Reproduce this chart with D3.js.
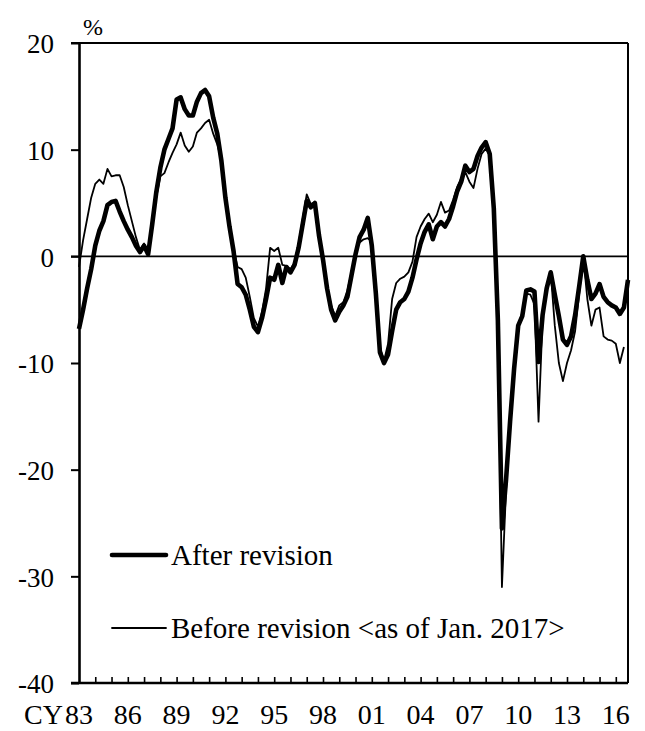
<!DOCTYPE html>
<html>
<head>
<meta charset="utf-8">
<script src="https://cdn.jsdelivr.net/npm/d3@7"></script>
<style>
  html, body { margin: 0; padding: 0; background: #fff; }
  svg text { font-family: "Liberation Serif", "Times New Roman", serif; fill: #000; }
</style>
</head>
<body>
<svg id="chart" width="645" height="731"></svg>
<script>
// Quarterly year-on-year change (%), 1983Q1 onward
const startYear = 1983;
const afterRevision = [
  -6.8, -5.0, -3.0, -1.2,   1.0, 2.4, 3.3, 4.8,   5.1, 5.2, 4.2, 3.3,   2.5, 1.8, 1.0, 0.4,
   1.0, 0.2, 3.0, 6.0,   8.3, 10.0, 11.0, 12.0,   14.7, 14.9, 13.8, 13.2,   13.2, 14.5, 15.3, 15.6,
   15.0, 13.0, 11.5, 9.0,   5.5, 2.8, 0.5, -2.6,   -2.9, -3.6, -5.0, -6.6,   -7.1, -5.8, -4.0, -2.0,
  -2.2, -0.8, -2.5, -1.0,   -1.5, -0.8, 0.8, 3.0,   5.2, 4.6, 5.0, 2.0,   -0.3, -3.0, -5.0, -6.0,
  -5.2, -4.6, -3.8, -1.8,   0.2, 1.8, 2.5, 3.6,   1.0, -3.5, -9.0, -10.0,   -9.2, -7.0, -5.0, -4.3,
  -4.0, -3.3, -2.0, -0.3,   1.2, 2.3, 3.0, 1.6,   2.8, 3.2, 2.8, 3.5,   4.7, 6.1, 7.0, 8.5,
   7.9, 8.2, 9.4, 10.2,   10.7, 9.6, 4.5, -6.0,   -25.5, -21.0, -15.5, -10.5,   -6.5, -5.6, -3.2, -3.1,
  -3.3, -9.9, -5.5, -3.0,   -1.5, -3.6, -5.6, -7.8,   -8.3, -7.5, -5.5, -2.8,   0.0, -2.2, -4.0, -3.5,
  -2.6, -3.8, -4.3, -4.6,   -4.8, -5.4, -4.8, -2.2
];
const beforeRevision = [
  -1.0, 1.5, 3.5, 5.5,   6.8, 7.2, 6.8, 8.2,   7.5, 7.6, 7.6, 6.5,   4.8, 3.3, 1.8, 0.6,
   1.2, 0.2, 3.0, 5.5,   7.5, 7.8, 8.8, 9.7,   10.5, 11.6, 10.4, 9.8,   10.3, 11.6, 12.0, 12.5,
   12.8, 11.5, 10.5, 9.0,   5.5, 3.0, 0.8, -1.0,   -1.2, -2.0, -3.8, -5.8,   -6.6, -5.2, -3.0, 0.8,
   0.5, 0.8, -0.8, -0.9,   -1.2, -0.6, 1.2, 3.5,   5.8, 4.9, 5.1, 2.2,   0.0, -2.7, -4.6, -5.6,
  -4.6, -4.3, -3.2, -1.5,   0.5, 1.3, 1.6, 1.7,   1.4, -3.0, -8.5, -9.8,   -8.2, -4.0, -2.5, -2.1,
  -1.9, -1.5, -0.5, 1.8,   2.8, 3.5, 4.0, 3.2,   3.9, 5.1, 4.1, 4.3,   5.3, 6.5, 7.3, 7.9,
   7.0, 6.4, 8.2, 9.6,   10.1, 9.5, 4.5, -6.0,   -31.0, -22.0, -15.0, -10.0,   -6.5, -5.3, -3.5, -3.6,
  -4.5, -15.5, -5.9, -3.0,   -1.5, -6.5, -10.0, -11.7,   -10.0, -8.8, -7.0, -3.5,   0.0, -4.0, -6.5, -5.0,
  -4.8, -7.5, -7.8, -7.9,   -8.2, -10.0, -8.5
];
const yTicks = [-40, -30, -20, -10, 0, 10, 20];
const xLabelYears = [1983, 1986, 1989, 1992, 1995, 1998, 2001, 2004, 2007, 2010, 2013, 2016];
const seriesNames = ["After revision", "Before revision <as of Jan. 2017>"];

const svg = d3.select("#chart");
const plotLeft = 79, plotRight = 628, plotTop = 43, plotBottom = 683;

const x = d3.scaleLinear().domain([0, afterRevision.length - 1]).range([plotLeft, plotRight]);
const y = d3.scaleLinear().domain([-40, 20]).range([plotBottom, plotTop]);

// y axis with outward ticks; labels keep a plain hyphen for negatives
const yAxis = d3.axisLeft(y).tickValues(yTicks).tickSize(8).tickSizeOuter(0).tickPadding(17)
  .tickFormat(d => String(d));
const gy = svg.append("g").attr("transform", `translate(${plotLeft},0)`).call(yAxis);
gy.select(".domain").attr("stroke", "#000").attr("stroke-width", 2.6);
gy.selectAll(".tick line").attr("stroke", "#000").attr("stroke-width", 2);
gy.selectAll(".tick text").attr("font-size", 27).attr("font-family", "Liberation Serif")
  .attr("dy", "0.36em");

// plot frame: top, right, bottom
svg.append("line").attr("x1", plotLeft - 8).attr("x2", plotRight).attr("y1", y(20)).attr("y2", y(20))
  .attr("stroke", "#000").attr("stroke-width", 2);
svg.append("line").attr("x1", plotRight).attr("x2", plotRight).attr("y1", y(20)).attr("y2", y(-40))
  .attr("stroke", "#000").attr("stroke-width", 2);
svg.append("line").attr("x1", plotLeft - 8).attr("x2", plotRight).attr("y1", y(-40)).attr("y2", y(-40))
  .attr("stroke", "#000").attr("stroke-width", 2.6);
// zero line
svg.append("line").attr("x1", plotLeft - 8).attr("x2", plotRight).attr("y1", y(0)).attr("y2", y(0))
  .attr("stroke", "#000").attr("stroke-width", 1.6);

// yearly inner ticks on the category axis
const yearTickIdx = d3.range(4, afterRevision.length, 4);
const xAxis = d3.axisBottom(x).tickValues(yearTickIdx).tickSize(-6).tickSizeOuter(0).tickFormat("");
const gx = svg.append("g").attr("transform", `translate(0,${plotBottom})`).call(xAxis);
gx.select(".domain").remove();
gx.selectAll(".tick line").attr("stroke", "#000").attr("stroke-width", 1.6);

// year labels
svg.append("g").selectAll("text").data(xLabelYears).join("text")
  .attr("x", d => x((d - startYear) * 4))
  .attr("y", 724)
  .attr("text-anchor", "middle")
  .attr("font-size", 28)
  .text(d => String(d % 100).padStart(2, "0"));
svg.append("text").attr("x", x(0) - 16).attr("y", 724).attr("text-anchor", "end")
  .attr("font-size", 28).text("CY");

// unit
svg.append("text").attr("x", 83).attr("y", 35).attr("font-size", 24).text("%");

// series lines
const line = d3.line().x((d, i) => x(i)).y(d => y(d)).curve(d3.curveLinear);
svg.append("path").datum(beforeRevision).attr("d", line)
  .attr("fill", "none").attr("stroke", "#000").attr("stroke-width", 1.8).attr("stroke-linejoin", "round");
svg.append("path").datum(afterRevision).attr("d", line)
  .attr("fill", "none").attr("stroke", "#000").attr("stroke-width", 4.6).attr("stroke-linejoin", "round");

// legend
const legendRows = [
  { name: seriesNames[0], w: 4.6, cy: 555 },
  { name: seriesNames[1], w: 1.8, cy: 628 }
];
const lg = svg.append("g");
legendRows.forEach(r => {
  lg.append("line").attr("x1", 112).attr("x2", 166).attr("y1", r.cy).attr("y2", r.cy)
    .attr("stroke", "#000").attr("stroke-width", r.w).attr("stroke-linecap", "round");
  lg.append("text").attr("x", 171).attr("y", r.cy + 10).attr("font-size", 29).text(r.name);
});
</script>
</body>
</html>
